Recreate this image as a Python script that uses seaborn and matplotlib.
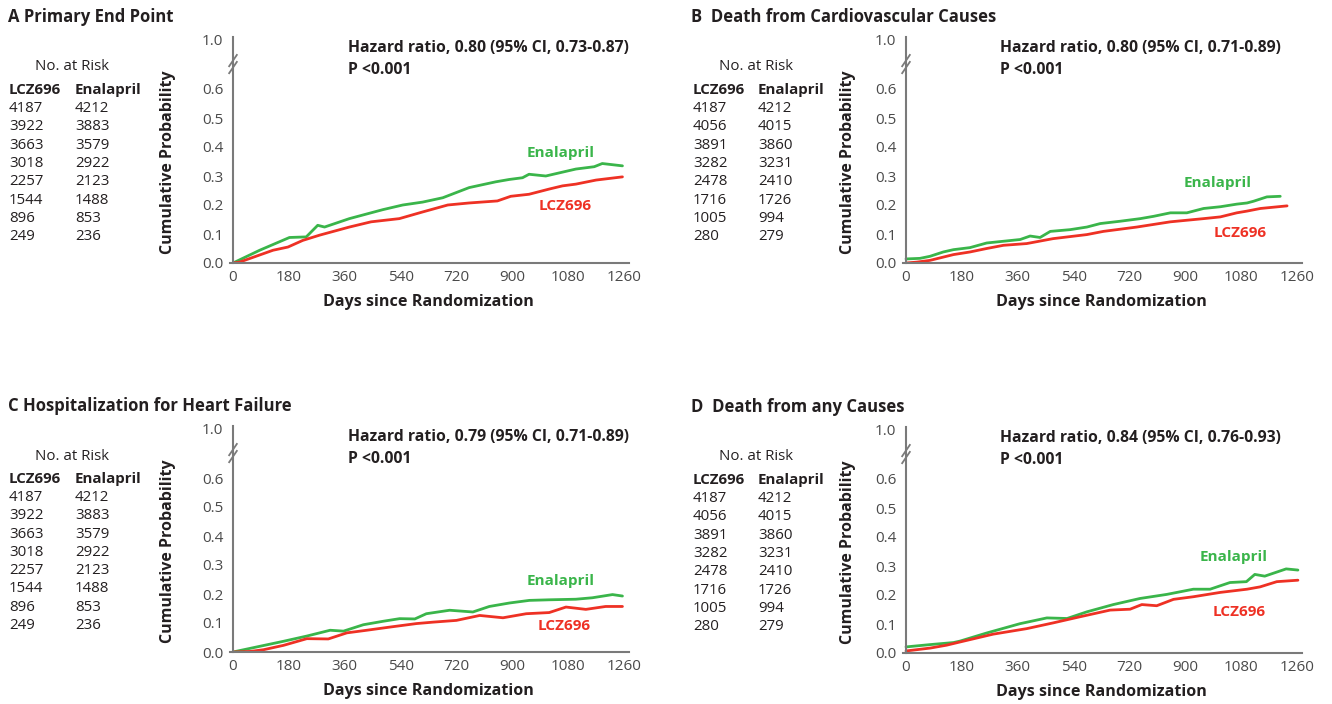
import matplotlib
matplotlib.use("Agg")
import matplotlib.pyplot as plt
import numpy as np
import pandas as pd
import seaborn as sns

# ---- Kaplan-Meier style cumulative incidence curves ----
days_a_enal = [0, 86, 182, 236, 273, 295, 375, 483, 547, 611, 676, 761, 847, 890, 933, 954, 1008, 1105, 1164, 1190, 1255]
prob_a_enal = [0.0, 0.044, 0.088, 0.090, 0.130, 0.124, 0.153, 0.184, 0.200, 0.210, 0.225, 0.260, 0.280, 0.288, 0.294, 0.306, 0.300, 0.324, 0.332, 0.343, 0.335]
days_a_lcz = [0, 21, 129, 177, 225, 279, 375, 445, 536, 611, 692, 761, 852, 895, 954, 1019, 1062, 1105, 1170, 1255]
prob_a_lcz = [0.0, 0.003, 0.044, 0.055, 0.078, 0.096, 0.124, 0.142, 0.153, 0.176, 0.200, 0.207, 0.214, 0.230, 0.237, 0.255, 0.266, 0.272, 0.286, 0.297]

days_b_enal = [0, 45, 77, 120, 153, 206, 260, 314, 368, 400, 432, 465, 529, 583, 626, 690, 755, 798, 852, 905, 959, 1013, 1066, 1099, 1120, 1163, 1206]
prob_b_enal = [0.014, 0.016, 0.023, 0.038, 0.046, 0.053, 0.069, 0.075, 0.081, 0.093, 0.088, 0.109, 0.115, 0.124, 0.136, 0.144, 0.153, 0.161, 0.173, 0.173, 0.188, 0.194, 0.203, 0.207, 0.213, 0.228, 0.230]
days_b_lcz = [0, 34, 77, 153, 206, 260, 314, 389, 474, 583, 636, 744, 852, 959, 1013, 1066, 1099, 1142, 1228]
prob_b_lcz = [0.0, 0.003, 0.009, 0.029, 0.038, 0.050, 0.061, 0.067, 0.084, 0.098, 0.109, 0.124, 0.142, 0.153, 0.159, 0.173, 0.179, 0.188, 0.197]

days_c_enal = [0, 88, 163, 238, 313, 356, 420, 484, 537, 586, 623, 698, 773, 826, 891, 955, 1019, 1105, 1158, 1223, 1255]
prob_c_enal = [0.0, 0.020, 0.037, 0.055, 0.075, 0.072, 0.094, 0.106, 0.115, 0.114, 0.132, 0.144, 0.138, 0.157, 0.169, 0.178, 0.180, 0.182, 0.187, 0.198, 0.193]
days_c_lcz = [0, 56, 99, 163, 238, 307, 367, 431, 506, 591, 645, 720, 795, 870, 945, 1019, 1073, 1137, 1201, 1255]
prob_c_lcz = [0.0, 0.002, 0.008, 0.023, 0.046, 0.045, 0.066, 0.075, 0.086, 0.098, 0.103, 0.109, 0.126, 0.118, 0.132, 0.136, 0.155, 0.147, 0.157, 0.157]

days_d_enal = [0, 78, 153, 174, 260, 367, 454, 519, 583, 668, 754, 840, 926, 980, 1044, 1097, 1124, 1156, 1225, 1263]
prob_d_enal = [0.021, 0.029, 0.036, 0.041, 0.069, 0.101, 0.121, 0.119, 0.142, 0.167, 0.188, 0.202, 0.220, 0.220, 0.243, 0.246, 0.271, 0.265, 0.290, 0.286]
days_d_lcz = [0, 78, 131, 174, 281, 389, 475, 561, 658, 722, 760, 808, 862, 926, 1013, 1099, 1141, 1195, 1263]
prob_d_lcz = [0.007, 0.017, 0.027, 0.038, 0.065, 0.084, 0.104, 0.125, 0.148, 0.151, 0.167, 0.163, 0.185, 0.194, 0.209, 0.220, 0.228, 0.246, 0.251]

# ---- numbers at risk ----
risk_lcz_hf = [4187, 3922, 3663, 3018, 2257, 1544, 896, 249]
risk_enal_hf = [4212, 3883, 3579, 2922, 2123, 1488, 853, 236]
risk_lcz_death = [4187, 4056, 3891, 3282, 2478, 1716, 1005, 280]
risk_enal_death = [4212, 4015, 3860, 3231, 2410, 1726, 994, 279]

# ---- panel text ----
panel_titles = ["A Primary End Point", "B  Death from Cardiovascular Causes",
                "C Hospitalization for Heart Failure", "D  Death from any Causes"]
hazard_texts = ["Hazard ratio, 0.80 (95% CI, 0.73-0.87)", "Hazard ratio, 0.80 (95% CI, 0.71-0.89)",
                "Hazard ratio, 0.79 (95% CI, 0.71-0.89)", "Hazard ratio, 0.84 (95% CI, 0.76-0.93)"]
p_text = "P <0.001"
x_ticks = [0, 180, 360, 540, 720, 900, 1080, 1260]
y_ticks = [0.0, 0.1, 0.2, 0.3, 0.4, 0.5, 0.6]
y_top_label = "1.0"

GREEN = "#3AB54A"
RED = "#EE3124"
AXIS_GREY = "#7a7a7a"
TEXT = "#231f20"

sns.set_theme(style="white")
plt.rcParams["font.family"] = ["Open Sans", "DejaVu Sans"]

W, H = 1332, 704
fig = plt.figure(figsize=(W / 100, H / 100), dpi=100)


def fx(x):
    return x / W


def fy(y):
    return 1 - y / H


X_MIN, X_MAX = -10, 1275
Y_MAX = 0.78
TOP_TICK = 0.772
BREAK_Y = 0.686
PX_PER_DAY = 391 / 1260
PX_PER_UNIT = 290


def panel(ax_left_px, zero_y_px, title, hz, days_enal, prob_enal, days_lcz, prob_lcz,
          risk_lcz, risk_enal, title_xy, enal_lab, lcz_lab, hz_x, table_x, ylab_x):
    left = ax_left_px + X_MIN * PX_PER_DAY
    width = (X_MAX - X_MIN) * PX_PER_DAY
    height = Y_MAX * PX_PER_UNIT
    ax = fig.add_axes([fx(left), fy(zero_y_px), fx(width), height / H])

    df = pd.concat([
        pd.DataFrame({"day": days_enal, "prob": prob_enal, "arm": "Enalapril"}),
        pd.DataFrame({"day": days_lcz, "prob": prob_lcz, "arm": "LCZ696"}),
    ])
    sns.lineplot(data=df, x="day", y="prob", hue="arm", palette={"Enalapril": GREEN, "LCZ696": RED},
                 linewidth=2.0, legend=False, ax=ax, estimator=None, sort=False)

    ax.set_xlim(X_MIN, X_MAX)
    ax.set_ylim(0, Y_MAX)
    ax.set_xlabel("")
    ax.set_ylabel("")
    for s in ["top", "right"]:
        ax.spines[s].set_visible(False)
    ax.spines["left"].set_position(("data", 0))
    for s in ["left", "bottom"]:
        ax.spines[s].set_color(AXIS_GREY)
        ax.spines[s].set_linewidth(1.5)
    ax.set_xticks(x_ticks)
    ax.set_xticklabels([str(t) for t in x_ticks])
    ax.set_yticks(y_ticks + [TOP_TICK])
    ax.set_yticklabels([f"{t:.1f}" for t in y_ticks] + [y_top_label])
    ax.tick_params(axis="both", length=0, labelsize=11, colors="#4a4a4a")
    ax.tick_params(axis="x", pad=5)
    ax.tick_params(axis="y", pad=7)
    ax.patch.set_alpha(0)

    # axis break slashes
    for dy in (-0.012, 0.012):
        ax.plot([-14, 14], [BREAK_Y + dy - 0.022, BREAK_Y + dy + 0.022], color=AXIS_GREY,
                lw=1.3, clip_on=False, solid_capstyle="butt")

    # curve labels
    ax.text(enal_lab[0], enal_lab[1], "Enalapril", color=GREEN, fontsize=11, fontweight="bold",
            ha="center", va="center")
    ax.text(lcz_lab[0], lcz_lab[1], "LCZ696", color=RED, fontsize=11, fontweight="bold",
            ha="center", va="center")

    # hazard text
    top = zero_y_px - 263
    fig.text(fx(hz_x), fy(48 + top), hz, fontsize=11.3, fontweight="bold", color=TEXT, va="center")
    fig.text(fx(hz_x), fy(70 + top), p_text, fontsize=11.3, fontweight="bold", color=TEXT, va="center")

    # titles and axis labels
    fig.text(fx(title_xy[0]), fy(title_xy[1]), title, fontsize=12, fontweight="bold", color=TEXT,
             va="center")
    fig.text(fx(ylab_x), fy(162 + top), "Cumulative Probability", rotation=90, fontsize=11.5,
             fontweight="bold", color=TEXT, ha="center", va="center")
    fig.text(fx(ax_left_px + 195), fy(302 + top), "Days since Randomization", fontsize=11.6,
             fontweight="bold", color=TEXT, ha="center", va="center")

    # number at risk table
    tx1, tx2 = table_x
    fig.text(fx(tx1 + 63), fy(67 + top), "No. at Risk", fontsize=10.8, color=TEXT, ha="center",
             va="center")
    fig.text(fx(tx1), fy(90 + top), "LCZ696", fontsize=10.8, fontweight="bold", color=TEXT, va="center")
    fig.text(fx(tx2), fy(90 + top), "Enalapril", fontsize=10.8, fontweight="bold", color=TEXT,
             va="center")
    for i, (a, b) in enumerate(zip(risk_lcz, risk_enal)):
        yy = 108.5 + i * 18.3 + top
        fig.text(fx(tx1), fy(yy), str(a), fontsize=10.8, color=TEXT, va="center")
        fig.text(fx(tx2), fy(yy), str(b), fontsize=10.8, color=TEXT, va="center")
    return ax


panel(233, 263, panel_titles[0], hazard_texts[0], days_a_enal, prob_a_enal, days_a_lcz, prob_a_lcz,
      risk_lcz_hf, risk_enal_hf, (8, 17), (1056, 0.378), (1072, 0.197), 348, (9, 75), 168)
panel(906, 263, panel_titles[1], hazard_texts[1], days_b_enal, prob_b_enal, days_b_lcz, prob_b_lcz,
      risk_lcz_death, risk_enal_death, (691, 17), (1003, 0.277), (1077, 0.102), 1000, (693, 758), 848)
panel(233, 652, panel_titles[2], hazard_texts[2], days_c_enal, prob_c_enal, days_c_lcz, prob_c_lcz,
      risk_lcz_hf, risk_enal_hf, (8, 406), (1056, 0.245), (1066, 0.090), 348, (9, 75), 168)
panel(906, 653, panel_titles[3], hazard_texts[3], days_d_enal, prob_d_enal, days_d_lcz, prob_d_lcz,
      risk_lcz_death, risk_enal_death, (691, 407), (1057, 0.330), (1073, 0.140), 1000, (693, 758), 848)

fig.savefig("out.png", dpi=100, facecolor="white")
